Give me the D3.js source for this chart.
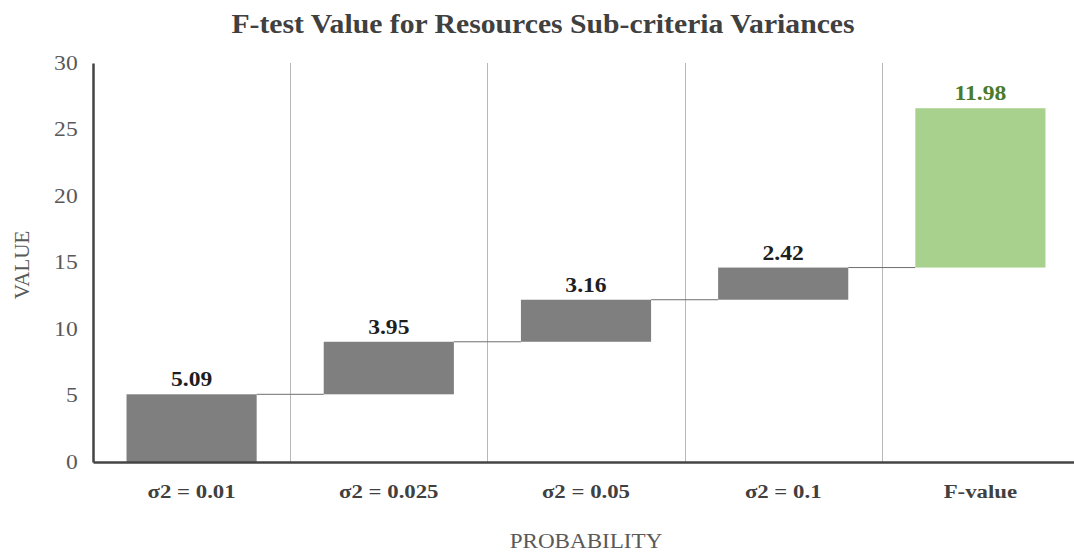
<!DOCTYPE html>
<html>
<head>
<meta charset="utf-8">
<script src="https://cdn.jsdelivr.net/npm/d3@7"></script>
<style>
  html, body { margin: 0; padding: 0; background: #fff; }
  svg { display: block; }
  text { font-family: "Liberation Serif", "Times New Roman", serif; }
</style>
</head>
<body>
<svg id="chart" width="1074" height="553"></svg>
<script>
// Waterfall data: step increments and the final total
const categories = ["σ2 = 0.01", "σ2 = 0.025", "σ2 = 0.05", "σ2 = 0.1", "F-value"];
const increments = [5.09, 3.95, 3.16, 2.42, 11.98];
const isTotal = [false, false, false, false, true];
const yTicks = [0, 5, 10, 15, 20, 25, 30];

const W = 1074, H = 553;
const margin = { left: 93, right: -5, top: 63, bottom: 91 };

const svg = d3.select("#chart");

// Build floating segments: each bar runs from the running sum to running sum + increment
let running = 0;
const segments = categories.map((c, i) => {
  const start = running;
  const end = running + increments[i];
  running = end;
  return { cat: c, start, end, value: increments[i], total: isTotal[i] };
});

const x = d3.scaleBand()
  .domain(categories)
  .range([margin.left, W - margin.right])
  .paddingInner(0.34)
  .paddingOuter(0.17);

const y = d3.scaleLinear()
  .domain([0, 30])
  .range([H - margin.bottom, margin.top]);

const step = x.step();
const bandStart = c => x(c) - x.paddingInner() * step / 2;

// Vertical separators between categories
svg.append("g")
  .selectAll("line")
  .data(categories.slice(1))
  .join("line")
  .attr("x1", c => Math.round(bandStart(c)) + 0.5)
  .attr("x2", c => Math.round(bandStart(c)) + 0.5)
  .attr("y1", y(30))
  .attr("y2", y(0))
  .attr("stroke", "#b8b8b8")
  .attr("stroke-width", 1);

// Connector lines from each bar's end to the next bar's start
svg.append("g")
  .selectAll("line")
  .data(segments.slice(0, -1))
  .join("line")
  .attr("x1", (d) => x(d.cat) + x.bandwidth())
  .attr("x2", (d, i) => x(segments[i + 1].cat))
  .attr("y1", d => y(d.end))
  .attr("y2", d => y(d.end))
  .attr("stroke", "#6f6f6f")
  .attr("stroke-width", 1);

// Bars
svg.append("g")
  .selectAll("rect")
  .data(segments)
  .join("rect")
  .attr("x", d => x(d.cat))
  .attr("width", x.bandwidth())
  .attr("y", d => y(d.end))
  .attr("height", d => y(d.start) - y(d.end))
  .attr("fill", d => d.total ? "#a9d18e" : "#7f7f7f");

// Value labels above each bar (slightly widened serif type)
svg.append("g")
  .selectAll("text")
  .data(segments)
  .join("text")
  .attr("transform", d => `translate(${x(d.cat) + x.bandwidth() / 2},${y(d.end) - 8}) scale(1.18,1)`)
  .attr("text-anchor", "middle")
  .attr("font-size", 20)
  .attr("font-weight", "bold")
  .attr("fill", d => d.total ? "#4a7a2c" : "#1e1e1e")
  .text(d => d.value.toFixed(2));

// Y axis
const yAxis = d3.axisLeft(y).tickValues(yTicks).tickSize(0).tickPadding(13);
const gy = svg.append("g")
  .attr("transform", `translate(${margin.left},0)`)
  .call(yAxis);
gy.select(".domain").attr("stroke", "#444").attr("stroke-width", 2.5);
gy.selectAll("text")
  .attr("font-family", "Liberation Serif, serif")
  .attr("font-size", 20)
  .attr("fill", "#595959")
  .attr("transform", "scale(1.18,1)");

// X axis
const xAxis = d3.axisBottom(x).tickSize(0).tickPadding(23);
const gx = svg.append("g")
  .attr("transform", `translate(0,${y(0)})`)
  .call(xAxis);
gx.select(".domain").attr("stroke", "#444").attr("stroke-width", 2.5);
gx.selectAll("text")
  .attr("font-family", "Liberation Serif, serif")
  .attr("font-size", 19)
  .attr("font-weight", "bold")
  .attr("fill", "#404040")
  .attr("transform", "scale(1.2,1)");

// Title
svg.append("text")
  .attr("transform", "translate(543,33) scale(1.1,1)")
  .attr("text-anchor", "middle")
  .attr("font-size", 27)
  .attr("font-weight", "bold")
  .attr("fill", "#404040")
  .text("F-test Value for Resources Sub-criteria Variances");

// Axis titles
svg.append("text")
  .attr("transform", "translate(586,548) scale(1.1,1)")
  .attr("text-anchor", "middle")
  .attr("font-size", 21)
  .attr("fill", "#595959")
  .text("PROBABILITY");

svg.append("text")
  .attr("transform", "translate(29,265) rotate(-90)")
  .attr("text-anchor", "middle")
  .attr("font-size", 21)
  .attr("fill", "#595959")
  .text("VALUE");
</script>
</body>
</html>
